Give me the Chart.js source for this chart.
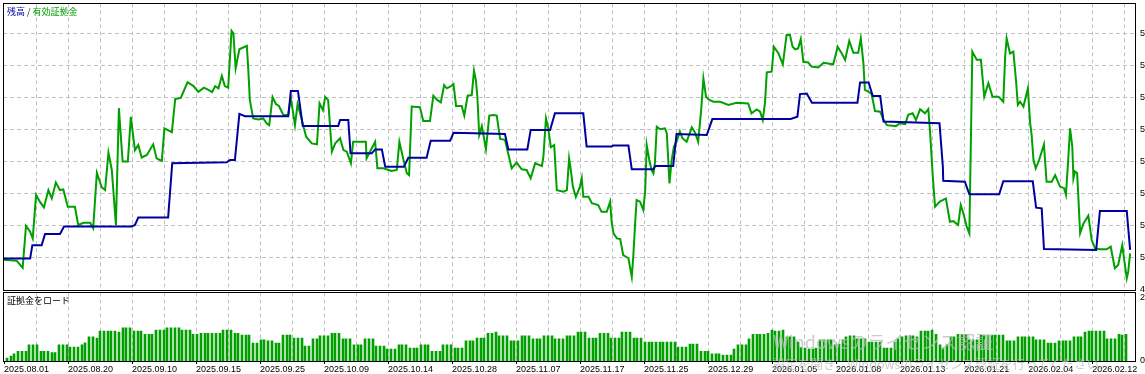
<!DOCTYPE html>
<html lang="ja">

<head>
  <meta charset="UTF-8">
  <title>残高 / 有効証拠金</title>
  <script src="https://cdn.jsdelivr.net/npm/chart.js"></script>
  <style>
    html, body { margin: 0; padding: 0; background: #fff; }
    body { position: relative; width: 1145px; height: 374px; overflow: hidden; }
    .panel { position: absolute; left: 0; width: 1145px; }
    #panelSuperior { top: 0; height: 292px; }
    #panelInferior { top: 292px; height: 82px; }
    /* marca de agua de Windows que aparece en la captura */
    .marca { position: absolute; left: 773px; color: rgba(185, 185, 185, 0.75); font-family: "Noto Sans CJK JP", sans-serif; line-height: 1; white-space: nowrap; pointer-events: none; }
  </style>
</head>

<body>
  <div class="panel" id="panelSuperior"><canvas id="graficoSaldo"></canvas></div>
  <div class="panel" id="panelInferior"><canvas id="graficoCarga"></canvas></div>
  <div class="marca" style="top:332px; font-size:18px;">Windowsのライセンス認証</div>
  <div class="marca" style="top:358px; font-size:12.5px;">設定を開き、Windowsのライセンス認証を行ってください。</div>

  <script>
    // balance (azul) y equity (verde): [posición en barras, valor]
    const balance = [[-1.0,4996],[6.2,4996],[6.8,5038],[9.3,5038],[10.2,5073],[14.2,5073],[15.3,5096],[33.4,5096],[34.3,5101],[35.2,5124],[43.2,5124],[44.3,5294],[58.9,5297],[59.8,5304],[61.1,5304],[62.3,5448],[63.8,5441],[75.4,5441],[76.1,5520],[78.0,5520],[79.3,5410],[88.8,5410],[89.3,5429],[91.5,5429],[92.1,5325],[97.8,5325],[98.7,5337],[100.5,5337],[101.4,5283],[106.4,5283],[107.6,5311],[112.5,5311],[113.6,5364],[118.8,5364],[119.7,5389],[133.5,5385],[134.4,5337],[139.5,5337],[140.4,5398],[145.6,5398],[146.9,5450],[154.5,5450],[155.4,5346],[162.1,5346],[162.5,5349],[166.6,5349],[167.5,5275],[173.3,5275],[173.8,5285],[178.6,5285],[179.5,5385],[187.6,5382],[189.1,5432],[210.1,5432],[211.9,5439],[212.6,5510],[214.4,5512],[215.8,5483],[228.0,5483],[228.7,5546],[231.0,5546],[232.1,5504],[234.1,5504],[235.0,5424],[250.0,5419],[250.9,5283],[251.0,5239],[256.8,5236],[258.0,5197],[266.0,5197],[267.1,5238],[275.0,5238],[275.9,5155],[277.4,5153],[278.0,5026],[292.0,5023],[293.0,5145],[300.2,5145],[301.1,5023]];

    const equity = [[-1.0,4992],[2.6,4989],[4.2,4967],[5.1,5098],[6.2,5080],[6.9,5059],[7.8,5195],[8.8,5174],[9.9,5156],[11.1,5210],[12.0,5184],[13.1,5234],[14.2,5210],[15.1,5212],[16.3,5158],[18.2,5158],[19.1,5101],[20.5,5108],[22.3,5108],[23.1,5091],[24.1,5264],[25.4,5219],[26.3,5210],[27.2,5327],[28.1,5273],[29.2,5101],[30.0,5466],[31.0,5299],[32.4,5299],[33.2,5439],[34.3,5335],[35.2,5351],[36.1,5312],[37.5,5320],[39.2,5353],[40.1,5309],[41.5,5301],[42.2,5403],[44.2,5391],[45.1,5495],[46.6,5498],[48.4,5547],[50.0,5535],[51.3,5517],[52.8,5530],[54.0,5523],[55.0,5516],[55.8,5535],[56.7,5528],[57.6,5567],[58.4,5535],[59.3,5530],[60.2,5708],[60.7,5700],[61.3,5591],[62.3,5650],[64.3,5661],[64.7,5585],[65.1,5492],[66.0,5434],[67.4,5431],[68.7,5434],[69.6,5419],[70.3,5413],[71.2,5501],[72.1,5479],[72.9,5473],[74.1,5445],[75.4,5445],[76.1,5498],[77.2,5413],[77.9,5479],[78.7,5445],[79.5,5408],[80.2,5377],[81.7,5356],[83.1,5353],[83.8,5481],[84.7,5460],[85.3,5501],[86.1,5491],[87.1,5330],[88.0,5356],[89.3,5372],[90.2,5335],[91.1,5330],[92.2,5294],[92.8,5361],[96.2,5361],[96.4,5309],[97.1,5325],[98.7,5361],[99.3,5278],[100.9,5278],[103.1,5270],[104.5,5273],[105.2,5361],[106.3,5304],[107.2,5263],[107.8,5257],[108.5,5471],[110.7,5469],[111.6,5426],[113.4,5426],[114.3,5505],[115.4,5491],[116.3,5484],[117.2,5538],[117.9,5528],[118.8,5533],[119.7,5541],[120.4,5473],[121.9,5473],[122.6,5443],[123.5,5505],[124.6,5507],[125.2,5583],[125.7,5554],[126.1,5502],[126.6,5382],[127.3,5410],[128.4,5338],[129.3,5443],[130.4,5445],[131.3,5443],[132.2,5370],[133.5,5367],[135.3,5278],[136.6,5296],[138.0,5275],[139.3,5273],[140.4,5247],[141.6,5294],[143.4,5285],[143.8,5314],[144.5,5434],[145.1,5403],[145.8,5344],[146.7,5351],[147.4,5210],[149.2,5205],[150.1,5210],[150.7,5309],[151.1,5278],[151.7,5221],[152.5,5189],[153.6,5221],[154.1,5247],[154.5,5189],[155.9,5189],[156.8,5169],[158.5,5163],[159.4,5142],[160.8,5142],[161.7,5174],[162.1,5111],[162.6,5075],[163.5,5059],[164.4,5057],[165.2,5007],[166.6,4997],[167.5,4939],[167.9,5002],[168.4,5106],[168.8,5179],[169.7,5174],[170.6,5148],[171.1,5210],[171.5,5351],[172.2,5304],[172.8,5273],[173.3,5262],[173.7,5294],[174.2,5408],[175.1,5400],[176.4,5403],[176.9,5387],[177.6,5231],[178.2,5304],[178.8,5346],[179.5,5361],[180.4,5393],[181.1,5372],[182.2,5361],[183.6,5406],[184.5,5389],[185.3,5361],[186.1,5460],[186.7,5559],[187.4,5502],[188.3,5492],[189.4,5486],[191.2,5486],[193.4,5476],[195.6,5483],[198.7,5481],[199.6,5450],[201.0,5462],[201.9,5455],[202.6,5429],[203.2,5481],[203.7,5578],[205.0,5580],[205.6,5658],[206.8,5638],[208.0,5603],[209.0,5695],[209.9,5695],[210.6,5658],[211.3,5650],[212.1,5653],[212.8,5682],[213.5,5611],[214.8,5609],[215.7,5596],[217.5,5593],[218.9,5608],[221.5,5603],[222.7,5658],[223.8,5637],[224.7,5617],[225.8,5676],[226.9,5639],[228.2,5639],[228.9,5684],[229.6,5606],[230.0,5523],[230.9,5518],[231.8,5510],[232.7,5457],[234.1,5455],[235.0,5429],[235.9,5413],[238.3,5410],[239.4,5419],[240.8,5416],[241.6,5445],[242.8,5450],[243.7,5429],[244.8,5463],[246.1,5450],[247.0,5463],[247.5,5387],[248.2,5252],[248.8,5158],[250.1,5174],[251.7,5184],[252.8,5111],[253.7,5113],[255.0,5101],[255.7,5163],[256.4,5137],[257.3,5096],[258.0,5075],[258.4,5356],[258.8,5643],[260.0,5617],[261.1,5617],[262.0,5502],[263.1,5544],[264.2,5502],[265.8,5502],[267.1,5486],[267.6,5627],[268.0,5684],[268.9,5637],[269.8,5643],[270.5,5554],[271.0,5476],[271.6,5486],[272.5,5471],[273.7,5528],[274.3,5419],[274.7,5382],[275.2,5304],[275.8,5278],[276.7,5304],[278.0,5353],[278.7,5236],[280.1,5236],[281.0,5257],[282.3,5221],[283.4,5216],[283.9,5195],[284.5,5304],[285.0,5403],[285.6,5346],[285.9,5247],[286.3,5268],[286.9,5263],[287.7,5075],[288.6,5106],[289.9,5130],[290.8,5054],[291.7,5028],[293.0,5025],[294.8,5025],[295.9,5033],[297.0,4966],[297.9,4976],[299.0,5038],[299.7,4976],[300.2,4934],[300.6,4955],[301.1,5012]];

    // carga de margen, una barra por posición
    const cargaMargen = [
      0.9, 1.6, 2.3, 3.1, 3.1, 3.1, 5.1, 5.1, 5.1, 3.1, 3.1, 3.1, 2.7, 2.7, 5.1, 5.1, 5.1, 4.4, 4.4, 4.4,
      5.1, 5.8, 7.7, 7.7, 7.3, 9.5, 9.5, 9.5, 9.5, 9.5, 9.2, 10.5, 10.5, 10.5, 9.5, 9.5, 9.5, 8.5, 8.5, 8.5,
      9.8, 9.8, 9.8, 10.5, 10.5, 10.5, 10.5, 9.8, 9.8, 9.8, 8.5, 8.5, 8.8, 8.8, 8.8, 8.8, 8.8, 8.8, 9.8, 9.8,
      9.8, 8.8, 8.8, 8.2, 8.2, 8.2, 5.7, 5.7, 6.7, 6.7, 6.4, 6.4, 5.7, 5.7, 8.2, 8.2, 8.2, 7.3, 7.3, 7.3,
      4.7, 4.7, 7.0, 7.0, 8.0, 8.0, 8.0, 8.8, 8.8, 8.8, 7.0, 7.0, 7.0, 5.1, 5.1, 5.1, 7.0, 7.0, 7.0, 4.7,
      4.7, 4.7, 3.8, 3.8, 3.8, 5.1, 5.1, 5.1, 4.1, 4.1, 4.1, 5.1, 5.1, 5.1, 3.1, 3.1, 3.1, 5.1, 5.1, 5.1,
      4.1, 4.1, 4.1, 6.4, 6.4, 6.4, 7.3, 7.3, 7.3, 8.8, 8.8, 9.2, 8.0, 8.0, 8.0, 6.4, 6.4, 6.4, 8.0, 8.0,
      8.0, 7.0, 7.0, 7.0, 8.0, 8.0, 8.0, 7.0, 7.0, 7.0, 8.0, 8.0, 8.0, 9.2, 9.2, 9.2, 7.3, 7.3, 7.3, 8.8,
      8.8, 8.8, 7.3, 7.3, 7.3, 9.2, 9.2, 9.2, 7.3, 7.3, 7.3, 6.0, 6.0, 6.0, 6.0, 6.0, 6.0, 6.0, 6.0, 6.0,
      4.4, 4.4, 4.4, 5.4, 5.4, 5.4, 3.1, 3.1, 3.1, 2.3, 2.3, 2.3, 1.9, 1.9, 1.9, 3.8, 5.1, 5.1, 5.1, 7.0,
      8.5, 8.5, 8.5, 8.5, 8.8, 9.8, 9.5, 9.5, 9.8, 7.7, 7.7, 7.7, 6.0, 4.3, 4.1, 3.8, 3.8, 4.1, 6.7, 6.7,
      6.7, 6.7, 5.1, 5.4, 6.7, 7.7, 8.0, 8.0, 7.0, 7.0, 7.0, 6.0, 6.0, 6.0, 6.0, 4.1, 4.1, 4.1, 6.0, 7.0,
      7.7, 8.0, 8.0, 8.0, 7.7, 9.5, 9.5, 9.5, 9.8, 8.5, 5.1, 4.1, 5.1, 7.7, 7.7, 8.5, 8.5, 8.5, 6.7, 6.7,
      6.7, 8.2, 8.2, 8.2, 8.2, 8.2, 8.2, 8.2, 6.4, 6.4, 6.4, 7.7, 7.7, 7.7, 7.7, 7.7, 6.7, 6.7, 6.7, 5.7,
      5.7, 5.7, 6.4, 6.4, 6.4, 6.4, 7.7, 7.7, 7.7, 9.2, 9.5, 9.5, 9.5, 9.5, 9.5, 7.0, 7.0, 7.0, 8.5, 8.2,
      8.5
    ];

    const fechas = ['2025.08.01', '2025.08.20', '2025.09.10', '2025.09.15', '2025.09.25', '2025.10.09',
      '2025.10.14', '2025.10.28', '2025.11.07', '2025.11.17', '2025.11.25', '2025.12.29',
      '2026.01.05', '2026.01.08', '2026.01.13', '2026.01.21', '2026.02.04', '2026.02.12'];

    const ticksSaldo = [4900, 5000, 5100, 5200, 5300, 5400, 5500, 5600, 5700];
    const etiquetasSaldo = ['4', '5', '5', '5', '5', '5', '5', '5', '5'];
    const ticksCarga = [0, 20];
    const etiquetasCarga = ['0', '2'];

    // escala horizontal: posición de barra; rejilla cada 8.58 posiciones
    const xMin = -1.07, xMax = 302.41;
    const rejillaInicio = -0.8, rejillaPaso = 8.58, rejillaLineas = 36;

    const azul = '#0000a0';
    const verde = '#00a000';
    const gris = '#c0c0c0';
    const fuente = '"Liberation Sans", Arial, sans-serif';
    const fuenteJP = '"Noto Sans CJK JP", sans-serif';

    // marco negro alrededor del área del gráfico
    const marco = {
      id: 'marco',
      afterDraw(chart) {
        const { ctx, chartArea: a } = chart;
        const x0 = Math.floor(a.left) + 0.5, y0 = Math.floor(a.top) + 0.5;
        const x1 = Math.floor(a.right) + 0.5, y1 = Math.ceil(a.bottom) + 0.5;
        ctx.save();
        ctx.strokeStyle = '#000';
        ctx.lineWidth = 1;
        ctx.strokeRect(x0, y0, x1 - x0, y1 - y0);
        ctx.restore();
      }
    };

    // barras nítidas: ajusta el centro de cada barra al píxel entero
    const barrasNitidas = {
      id: 'barrasNitidas',
      beforeDatasetsDraw(chart) {
        chart.getDatasetMeta(0).data.forEach(el => { el.x = Math.round(el.x); });
      }
    };

    // título de panel en la esquina
    const titulo = {
      id: 'titulo',
      afterDraw(chart, args, opts) {
        const ctx = chart.ctx;
        ctx.save();
        ctx.font = '9px ' + fuenteJP;
        ctx.textBaseline = 'middle';
        let x = opts.x;
        opts.partes.forEach(p => {
          ctx.fillStyle = p.color;
          ctx.fillText(p.texto, x, opts.y);
          x += ctx.measureText(p.texto).width;
        });
        ctx.restore();
      }
    };

    function ejeX(conEtiquetas) {
      return {
        type: 'linear',
        min: xMin,
        max: xMax,
        offset: false,
        afterBuildTicks: s => {
          const t = [];
          for (let k = 0; k < rejillaLineas; k++) t.push({ value: rejillaInicio + k * rejillaPaso });
          s.ticks = t;
        },
        afterFit: s => {
          s.height = conEtiquetas ? 13 : 0;
          s.paddingLeft = 0;
          s.paddingRight = 0;
        },
        grid: {
          offset: false,
          color: ctx => ctx.index === 0 ? 'rgba(0,0,0,0)' : gris,
          drawTicks: conEtiquetas,
          tickLength: 3,
          tickColor: ctx => ctx.index % 2 === 0 ? '#000' : 'rgba(0,0,0,0)'
        },
        border: { display: false, dash: [4, 3] },
        ticks: {
          display: conEtiquetas,
          autoSkip: false,
          maxRotation: 0,
          align: 'start',
          padding: 0,
          color: '#000',
          font: { family: fuente, size: 9 },
          callback: (v, i) => i % 2 === 0 ? fechas[i / 2] : ''
        }
      };
    }

    function ejeY(min, max, valores, etiquetas, conRejilla) {
      return {
        position: 'right',
        min: min,
        max: max,
        afterBuildTicks: s => { s.ticks = valores.map(v => ({ value: v })); },
        afterFit: s => {
          s.width = 10;
          s.paddingTop = 0;
          s.paddingBottom = 0;
        },
        grid: {
          display: conRejilla,
          color: ctx => ctx.index === 0 ? 'rgba(0,0,0,0)' : gris,
          drawTicks: false
        },
        border: { display: false, dash: [4, 3] },
        ticks: {
          padding: 5,
          color: '#000',
          font: { family: fuente, size: 9 },
          callback: (v, i) => etiquetas[i]
        }
      };
    }

    const aPuntos = pares => pares.map(p => ({ x: p[0], y: p[1] }));

    new Chart(document.getElementById('graficoSaldo'), {
      type: 'line',
      data: {
        datasets: [
          { label: '残高', data: aPuntos(balance), borderColor: azul, borderWidth: 2, pointRadius: 0, tension: 0 },
          { label: '有効証拠金', data: aPuntos(equity), borderColor: verde, borderWidth: 2, pointRadius: 0, tension: 0 }
        ]
      },
      options: {
        responsive: true,
        maintainAspectRatio: false,
        animation: false,
        layout: { padding: { left: 3, top: 3.3, right: 0, bottom: 2.7 } },
        scales: {
          x: ejeX(false),
          y: ejeY(4900, 5793.75, ticksSaldo, etiquetasSaldo, true)
        },
        plugins: {
          legend: { display: false },
          tooltip: { enabled: false },
          titulo: {
            x: 7, y: 11.5,
            partes: [{ texto: '残高', color: azul }, { texto: ' / ', color: '#222' }, { texto: '有効証拠金', color: verde }]
          }
        }
      },
      plugins: [marco, titulo]
    });

    new Chart(document.getElementById('graficoCarga'), {
      type: 'bar',
      data: {
        datasets: [{
          label: '証拠金をロード',
          data: cargaMargen.map((v, i) => ({ x: i, y: v })),
          backgroundColor: verde,
          borderWidth: 0,
          barThickness: 2
        }]
      },
      options: {
        responsive: true,
        maintainAspectRatio: false,
        animation: false,
        layout: { padding: { left: 3, top: 0.5, right: 0, bottom: 0 } },
        scales: {
          x: ejeX(true),
          y: ejeY(0, 21.75, ticksCarga, etiquetasCarga, false)
        },
        plugins: {
          legend: { display: false },
          tooltip: { enabled: false },
          titulo: { x: 7, y: 9, partes: [{ texto: '証拠金をロード', color: '#000' }] }
        }
      },
      plugins: [marco, titulo, barrasNitidas]
    });
  </script>
</body>

</html>
